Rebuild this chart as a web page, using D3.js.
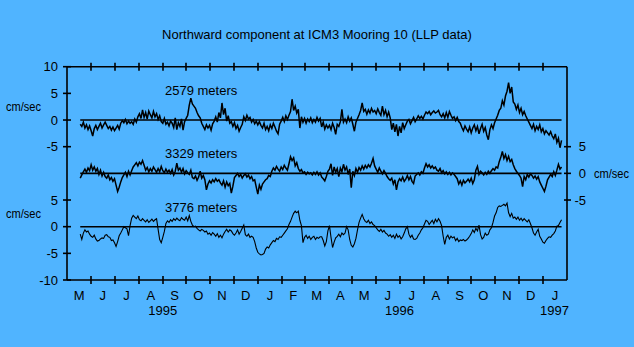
<!DOCTYPE html>
<html>
<head>
<meta charset="utf-8">
<script src="https://cdn.jsdelivr.net/npm/d3@7/dist/d3.min.js"></script>
<style>
  html, body { margin: 0; padding: 0; background: #50b4ff; }
  svg { display: block; font-family: "Liberation Sans", Arial, sans-serif; }
</style>
</head>
<body>
<svg id="chart" width="634" height="347"></svg>
<script>
// Northward current component, three instrument depths, sampled every 2 days
const title = "Northward component at ICM3 Mooring 10 (LLP data)";
const seriesNames = ["2579 meters", "3329 meters", "3776 meters"];
const firstSample = new Date(1995, 4, 18);
const stepDays = 2;

const v2579 = [
  -0.8,-1.2,-0.4,-1.5,-0.9,-1.8,-1.1,-2.0,-3.0,-1.6,
  -1.0,-1.8,-1.2,-0.6,-1.5,-0.9,-0.4,-1.0,-1.6,-1.2,
  -1.9,-1.3,-2.0,-1.5,-1.0,-1.7,-0.6,-0.1,-0.5,0.1,
  -0.7,-0.2,-0.6,-0.3,-0.8,0.2,-0.4,0.6,1.2,0.3,
  1.9,0.5,1.4,0.2,1.7,1.0,0.4,1.6,0.6,1.2,
  0.1,0.8,-0.3,-0.6,0.3,-0.8,-0.4,-1.1,-0.2,-0.6,
  -1.4,0.4,-1.8,-0.5,-1.2,0.2,-1.9,-0.3,0.3,0.9,
  2.8,4.1,3.0,2.6,2.2,1.4,0.8,0.4,-0.6,-1.2,
  -1.8,-0.9,-1.5,-1.0,-1.9,-0.7,-0.2,0.6,-0.4,1.4,
  0.4,3.2,1.0,2.2,-0.2,0.8,-0.6,-0.3,-1.2,-0.5,
  -1.6,-1.0,-2.1,-1.4,-0.8,0.6,-0.1,0.9,0.2,0.5,
  -0.4,0.1,-0.7,-0.2,-0.9,-0.3,-1.0,-1.5,-0.6,-1.8,
  -1.2,-2.0,-0.9,-1.6,-0.6,-1.3,-2.1,-2.6,-0.8,-0.2,
  0.5,-0.3,0.8,0.1,0.9,1.6,3.9,1.8,2.6,1.3,
  2.0,-1.5,0.6,-0.4,0.3,-0.6,0.2,-0.3,0.4,-0.5,
  0.1,-0.4,0.5,-0.2,0.3,-1.3,-0.4,-1.7,-0.9,-1.5,
  -1.0,-1.8,-0.6,-1.4,-2.7,-0.8,-1.2,-0.3,2.0,-0.4,
  0.2,-0.5,0.6,-0.2,0.4,-0.8,-2.1,-0.4,0.3,1.0,
  1.8,3.2,1.6,2.0,1.1,1.9,1.3,2.2,1.5,1.8,
  1.2,2.1,1.4,0.9,2.6,1.0,1.8,0.6,1.5,0.4,
  -1.8,-0.6,-2.2,-0.8,-3.0,-1.2,-2.4,-0.5,-1.6,-0.9,
  -0.2,0.1,-0.7,-0.1,0.5,-0.3,0.2,0.8,0.3,0.7,
  0.2,0.9,1.5,1.2,1.6,1.0,1.4,1.7,1.3,1.5,
  1.8,1.0,0.6,1.2,0.4,1.4,0.5,1.6,0.9,0.3,
  0.6,-0.1,0.5,-0.3,-0.6,-1.4,-2.0,-1.1,-1.7,-2.2,
  -1.3,-2.4,-1.5,-0.9,-2.0,-1.2,-2.6,-1.6,-0.8,-2.1,
  -1.4,-2.8,-3.7,-1.8,-0.9,-1.6,-0.5,0.2,0.9,1.8,
  2.2,3.6,2.8,4.5,5.4,7.0,5.0,6.2,3.4,3.0,
  2.0,2.8,1.4,2.2,1.0,1.6,0.8,0.2,-0.4,-1.0,
  -1.6,-0.8,-2.0,-1.2,-1.8,-0.9,-2.2,-1.6,-2.6,-2.0,
  -2.4,-2.8,-2.2,-3.0,-3.5,-2.6,-4.2,-3.4,-5.2,-3.8
];

const v3329 = [
  -0.9,-0.3,0.3,0.8,0.2,1.0,0.5,1.6,0.6,1.2,
  0.4,0.9,-0.2,0.6,-0.5,0.2,-0.6,-0.9,-0.3,-1.2,
  -0.8,-1.5,-1.0,-2.2,-3.4,-2.6,-1.6,-0.8,-0.3,0.2,
  -0.6,0.4,-0.3,0.5,1.2,1.6,2.0,1.4,2.1,1.7,
  2.4,1.5,0.6,1.1,0.3,0.9,0.4,1.2,0.7,0.2,
  0.9,0.3,1.3,0.5,0.1,0.8,0.2,0.6,0.0,0.7,
  -0.3,0.4,1.9,0.6,1.0,0.2,0.9,-0.1,0.5,0.1,
  -0.2,0.6,-0.8,-1.0,-0.5,-1.3,-0.7,0.4,-0.9,-0.4,
  -1.2,-3.1,-2.0,-1.4,-1.8,-1.2,-1.6,-1.0,-1.5,-1.2,
  -1.8,-2.2,-1.4,-2.6,-1.6,-2.3,-1.9,-3.7,-2.4,-0.8,
  -0.4,0.0,-0.6,-0.2,-0.9,-0.4,-0.1,-0.7,-0.3,-1.0,
  -0.6,-1.4,-1.2,-2.6,-3.9,-2.2,-3.0,-2.0,-1.6,-1.2,
  -1.0,-0.4,-0.6,0.4,1.0,0.6,1.3,0.8,0.4,1.2,
  0.7,1.5,1.0,0.6,1.8,3.1,2.4,2.9,1.4,2.0,
  0.9,0.4,0.7,0.1,0.3,-0.2,0.2,-0.1,0.1,-0.3,
  0.2,-0.2,0.3,-0.3,0.1,-0.7,-1.0,-1.4,-0.6,0.4,
  0.8,1.8,-0.4,1.2,0.2,0.9,-0.6,1.0,0.3,1.7,
  0.6,1.2,-0.2,0.8,-2.7,0.4,-0.4,0.9,0.2,1.1,
  0.6,1.4,0.8,1.5,1.0,1.6,1.2,1.9,2.8,1.4,
  0.8,0.2,1.0,0.4,-0.1,0.5,0.0,-0.6,-1.0,-1.3,
  -0.9,-2.0,-1.2,-3.1,-1.6,-1.0,-1.4,-0.7,-1.5,-1.1,
  -0.4,-1.2,-0.6,-1.5,-1.9,-0.5,-0.2,0.1,-0.3,0.3,
  0.0,1.0,1.8,1.2,1.6,1.0,1.4,0.9,1.2,0.6,
  0.4,0.9,0.1,0.5,-0.1,0.3,-0.2,0.2,-0.3,0.1,
  -0.2,-0.6,-1.0,-2.0,-1.4,-2.2,-1.3,-1.8,-1.5,-1.1,
  -1.6,-0.9,-1.9,-1.2,0.6,1.3,-0.2,0.4,0.1,-0.3,
  0.2,-0.2,0.4,0.0,0.5,0.9,0.6,1.2,1.0,2.2,
  3.0,4.1,2.8,3.5,2.4,3.2,2.2,2.6,1.6,0.9,
  0.4,0.0,-0.4,-0.9,-2.5,-0.6,-1.2,-0.2,-0.7,-0.1,
  -0.4,-0.9,-0.5,-1.1,-0.6,-1.6,-2.2,-2.8,-3.4,-2.4,
  -1.2,-0.7,-0.2,-0.6,0.3,-0.4,0.6,1.7,0.8,1.2
];

const v3776 = [
  -1.4,-2.4,-1.2,-0.6,-1.0,-0.8,-1.4,-1.8,-2.0,-1.6,
  -2.3,-2.7,-2.6,-2.3,-2.1,-2.2,-1.6,-1.5,-1.9,-2.0,
  -2.6,-2.5,-3.0,-3.7,-2.8,-1.7,-1.2,-0.6,0.0,-0.2,
  -0.4,-1.7,0.2,1.6,2.1,1.8,1.5,2.0,1.3,1.1,
  1.5,1.2,0.9,1.3,0.8,1.1,1.4,1.0,1.3,1.5,
  -0.5,-2.4,-3.0,-2.0,-0.9,0.6,1.1,0.8,1.3,1.0,
  1.5,1.2,1.6,1.3,1.1,1.7,1.4,1.2,1.8,1.1,
  2.1,1.0,0.3,0.0,0.1,-0.3,-0.6,-0.8,-0.5,-0.7,
  -1.0,-0.8,-1.4,-1.2,-1.6,-1.1,-1.4,-1.8,-1.3,-2.0,
  -1.6,-2.1,-1.4,-0.9,-0.5,-1.0,-0.6,-0.8,-1.3,-1.6,
  -1.2,-0.6,-1.4,-0.9,-0.3,0.3,-1.5,-1.8,-1.4,-2.0,
  -1.8,-2.0,-2.8,-4.0,-4.8,-5.1,-5.3,-5.2,-5.0,-4.2,
  -3.8,-4.0,-3.4,-3.0,-2.6,-2.8,-2.2,-2.4,-1.9,-2.0,
  -1.6,-1.2,-0.8,-0.4,0.4,1.0,1.8,2.5,2.9,2.6,
  2.9,1.2,0.2,-3.0,-2.0,-1.6,-2.2,-1.8,-2.4,-2.0,
  -1.8,-2.4,-2.0,-2.2,-1.9,-1.9,-2.6,-3.6,-2.8,-0.8,
  0.2,-2.0,-3.9,-2.9,-2.1,-1.8,-1.4,-1.9,-1.2,-1.5,
  -1.2,0.0,-0.6,-2.4,-3.5,-3.8,-3.2,-2.2,-0.6,0.8,
  1.6,2.3,1.5,1.0,0.8,1.2,0.6,0.9,0.4,0.2,
  -0.2,-0.6,-0.9,-0.5,-1.0,-0.7,-1.2,-1.4,-1.8,-1.5,
  -2.0,-1.6,-2.2,-1.4,-2.0,-1.7,-2.3,-1.9,-1.2,-0.4,
  0.0,-1.4,-2.0,-1.6,-2.3,-2.4,-2.2,-1.6,-1.2,-0.6,
  -0.2,0.5,1.2,1.0,0.4,0.8,1.2,0.6,1.4,0.9,
  1.5,1.0,0.2,-1.8,-3.3,-2.0,-1.6,-2.3,-1.8,-2.1,
  -1.9,-2.6,-2.2,-2.8,-2.5,-2.6,-2.4,-2.7,-2.5,-2.2,
  -1.8,-1.3,-0.6,-1.1,-0.3,-0.8,0.3,-1.5,-2.3,-2.0,
  -1.2,-1.6,-1.4,-0.6,-0.2,0.8,2.0,2.6,3.6,3.9,
  3.8,4.0,4.2,3.9,4.4,2.6,1.9,2.5,1.6,1.8,
  1.4,1.8,1.2,1.6,1.1,1.5,1.2,0.9,1.3,0.6,
  -0.2,-1.2,-1.6,-1.0,-0.5,-1.8,-2.3,-2.9,-3.1,-2.6,
  -2.2,-1.9,-2.0,-1.6,-1.3,-0.8,0.1,0.2,0.8,1.3
];

// Each depth is stacked on a shared axis with its own zero level
const seriesValues = [v2579, v3329, v3776];
const seriesOffsets = [20, 10, 0];

// Axis labels
const monthLabels = ["M","J","J","A","S","O","N","D","J","F","M","A","M","J","J","A","S","O","N","D","J"];
const yearLabels = ["1995", "1996", "1997"];
const yearDates = [new Date(1995, 8, 1), new Date(1996, 6, 1), new Date(1997, 0, 16)];
const leftTickValues = [30, 25, 20, 15, 5, 0, -5, -10];
const leftTickLabels = ["10", "5", "0", "-5", "5", "0", "-5", "-10"];
const rightTickValues = [15, 10, 5];
const rightTickLabels = ["5", "0", "-5"];
const unitLabel = "cm/sec";

const svg = d3.select("#chart");
const W = 634, H = 347;
const plot = { left: 67, right: 567, top: 66.7, bottom: 280 };

const x = d3.scaleTime()
  .domain([new Date(1995, 4, 1), new Date(1997, 1, 1)])
  .range([plot.left, plot.right]);
const y = d3.scaleLinear()
  .domain([-10, 30])
  .range([plot.bottom, plot.top]);

svg.append("rect").attr("width", W).attr("height", H).attr("fill", "#50b4ff");

// Title
svg.append("text")
  .attr("x", 317).attr("y", 38.5)
  .attr("text-anchor", "middle")
  .attr("font-size", 13)
  .text(title);

const sampleDate = i => d3.timeDay.offset(firstSample, i * stepDays);

// Zero reference lines and data traces
seriesValues.forEach((vals, k) => {
  const off = seriesOffsets[k];
  const t0 = sampleDate(0), t1 = sampleDate(vals.length - 1);
  svg.append("line")
    .attr("x1", x(t0)).attr("x2", x(t1))
    .attr("y1", y(off)).attr("y2", y(off))
    .attr("stroke", "#000").attr("stroke-width", 1.6);
  const line = d3.line()
    .x((d, i) => x(sampleDate(i)))
    .y(d => y(d + off));
  svg.append("path")
    .datum(vals)
    .attr("d", line)
    .attr("fill", "none")
    .attr("stroke", "#000")
    .attr("stroke-width", k === 2 ? 1.1 : 1.5)
    .attr("stroke-linejoin", "miter");
});

// Depth labels
const labelRise = [4.7, 2.8, 2.8];
seriesNames.forEach((name, k) => {
  svg.append("text")
    .attr("x", 165)
    .attr("y", y(seriesOffsets[k] + labelRise[k]))
    .attr("font-size", 13)
    .text(name);
});

// Frame: left, right, top and bottom axes with ticks straddling the line
const monthTicks = d3.timeMonth.range(new Date(1995, 5, 1), new Date(1997, 1, 1));
const axisG = svg.append("g").attr("stroke", "#000").attr("stroke-width", 1.6);

axisG.append("line").attr("x1", plot.left).attr("x2", plot.left).attr("y1", plot.top).attr("y2", plot.bottom);
axisG.append("line").attr("x1", plot.right).attr("x2", plot.right).attr("y1", plot.top).attr("y2", plot.bottom);
axisG.append("line").attr("x1", plot.left).attr("x2", plot.right).attr("y1", plot.top).attr("y2", plot.top);
axisG.append("line").attr("x1", plot.left).attr("x2", plot.right).attr("y1", plot.bottom).attr("y2", plot.bottom);

[plot.top, plot.bottom].forEach(yy => {
  axisG.selectAll(null).data(monthTicks).enter().append("line")
    .attr("x1", d => Math.round(x(d))).attr("x2", d => Math.round(x(d)))
    .attr("y1", yy - 4).attr("y2", yy + 4);
});

axisG.selectAll(null).data(leftTickValues).enter().append("line")
  .attr("x1", plot.left - 4).attr("x2", plot.left + 4)
  .attr("y1", d => y(d)).attr("y2", d => y(d));
axisG.selectAll(null).data(rightTickValues).enter().append("line")
  .attr("x1", plot.right - 3).attr("x2", plot.right + 4)
  .attr("y1", d => y(d)).attr("y2", d => y(d));

// Tick labels
svg.selectAll(null).data(leftTickValues).enter().append("text")
  .attr("x", 58).attr("y", d => y(d)).attr("dy", "0.36em")
  .attr("text-anchor", "end").attr("font-size", 13)
  .text((d, i) => leftTickLabels[i]);
svg.selectAll(null).data(rightTickValues).enter().append("text")
  .attr("x", 586).attr("y", d => y(d)).attr("dy", "0.36em")
  .attr("text-anchor", "end").attr("font-size", 13)
  .text((d, i) => rightTickLabels[i]);

// Unit labels
[[6, y(22.5)], [6, y(2.5)], [594, y(10)]].forEach(([ux, uy]) => {
  svg.append("text")
    .attr("x", ux).attr("y", uy).attr("dy", "0.36em")
    .attr("font-size", 13)
    .attr("textLength", 35).attr("lengthAdjust", "spacingAndGlyphs")
    .text(unitLabel);
});

// Month initials centred within each month, years beneath
const monthStarts = d3.timeMonth.range(new Date(1995, 4, 1), new Date(1997, 1, 1));
svg.selectAll(null).data(monthStarts).enter().append("text")
  .attr("x", d => (x(d) + x(d3.timeMonth.offset(d, 1))) / 2)
  .attr("y", 299.5)
  .attr("text-anchor", "middle").attr("font-size", 13)
  .text((d, i) => monthLabels[i]);
svg.selectAll(null).data(yearDates).enter().append("text")
  .attr("x", d => x(d)).attr("y", 314.5)
  .attr("text-anchor", "middle").attr("font-size", 13)
  .text((d, i) => yearLabels[i]);
</script>
</body>
</html>
